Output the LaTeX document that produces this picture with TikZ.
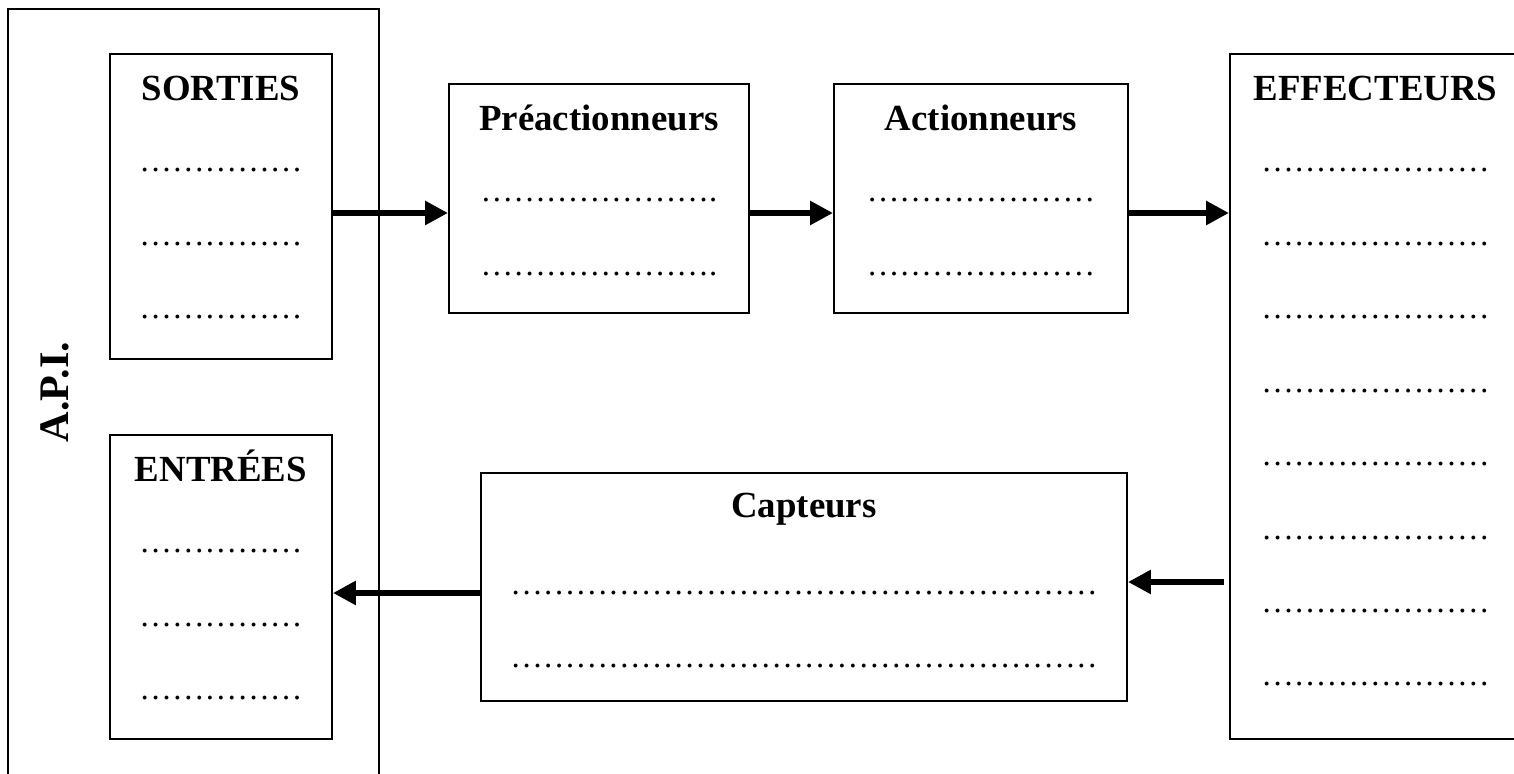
\documentclass[tikz,border=0pt]{standalone}
\usepackage{fontspec}
\setmainfont{Liberation Serif}
\usetikzlibrary{positioning, calc, arrows.meta}
\newcommand{\pointilles}[1]{\foreach \k in {1,...,#1}{…}}

\begin{document}
\begin{tikzpicture}[x=0.38pt, y=0.38pt,
		bloc/.style={rectangle, draw, line width=0.75pt, inner sep=0pt, anchor=north west},
		titre/.style={anchor=base, font=\fontsize{14}{16}\selectfont\bfseries},
		pts/.style={anchor=base, font=\fontsize{12.4}{14}\selectfont},
		fleche/.style={-{Triangle[length=8.7pt, width=8.7pt]}, line width=2.6pt}]
		\useasboundingbox (0,0) rectangle (1514,-774);
		\clip (0,0) rectangle (1514,-774);
		\node[bloc, minimum width=140.98pt, minimum height=300.96pt] (api) at (7,-8) {};
		\node[rotate=90, font=\fontsize{16}{18}\selectfont\bfseries] (api-t) at (55,-392) {A.P.I.};
		\node[bloc, minimum width=84.36pt, minimum height=115.9pt] (sorties) at (109,-53) {};
		\node[bloc, minimum width=84.36pt, minimum height=115.52pt] (entrees) at (109,-434) {};
		\node[bloc, minimum width=114pt, minimum height=87.02pt] (pre) at (448,-83) {};
		\node[bloc, minimum width=111.72pt, minimum height=87.02pt] (act) at (833,-83) {};
		\node[bloc, minimum width=110.58pt, minimum height=260.3pt] (eff) at (1229,-53) {};
		\node[bloc, minimum width=245.48pt, minimum height=86.64pt] (capt) at (480,-472) {};
		\node[titre] (t-sorties) at ([yshift=-17.9pt]sorties.north) {SORTIES};
		\node[titre] (t-entrees) at ([yshift=-17.9pt]entrees.north) {ENTRÉES};
		\node[titre] (t-pre) at ([yshift=-17.9pt]pre.north) {Préactionneurs};
		\node[titre] (t-act) at ([yshift=-17.9pt]act.north) {Actionneurs};
		\node[titre] (t-eff) at ([yshift=-17.9pt]eff.north) {EFFECTEURS};
		\node[titre] (t-capt) at ([yshift=-17.4pt]capt.north) {Capteurs};
		\node[pts] (s1) at ([yshift=-45.2pt]sorties.north) {\pointilles{5}};
		\node[pts] (s2) at ([yshift=-73.1pt]sorties.north) {\pointilles{5}};
		\node[pts] (s3) at ([yshift=-101pt]sorties.north) {\pointilles{5}};
		\node[pts] (e1) at ([yshift=-45.2pt]entrees.north) {\pointilles{5}};
		\node[pts] (e2) at ([yshift=-73.1pt]entrees.north) {\pointilles{5}};
		\node[pts] (e3) at ([yshift=-101pt]entrees.north) {\pointilles{5}};
		\node[pts] (p1) at ([yshift=-45.2pt]pre.north) {\pointilles{7}.};
		\node[pts] (p2) at ([yshift=-73.1pt]pre.north) {\pointilles{7}.};
		\node[pts] (a1) at ([yshift=-45.2pt]act.north) {\pointilles{7}};
		\node[pts] (a2) at ([yshift=-73.1pt]act.north) {\pointilles{7}};
		\node[pts] (c1) at ([yshift=-46.6pt]capt.north) {\pointilles{18}};
		\node[pts] (c2) at ([yshift=-74.3pt]capt.north) {\pointilles{18}};
		\foreach \i in {1,...,8}
			\node[pts] (f\i) at ([yshift={-45.2pt-(\i-1)*27.9pt}]eff.north) {\pointilles{7}};
		\coordinate (r1) at (0,-213);
		\coordinate (r2) at (0,-582);
		\coordinate (r3) at (0,-593);
		\draw[fleche] (sorties.east |- r1) -- (pre.west |- r1);
		\draw[fleche] (pre.east |- r1) -- (act.west |- r1);
		\draw[fleche] (act.east |- r1) -- (eff.west |- r1);
		\draw[fleche] ($(eff.west |- r2)+(-5,0)$) -- (capt.east |- r2);
		\draw[fleche] (capt.west |- r3) -- (entrees.east |- r3);
		\end{tikzpicture}
\end{document}
